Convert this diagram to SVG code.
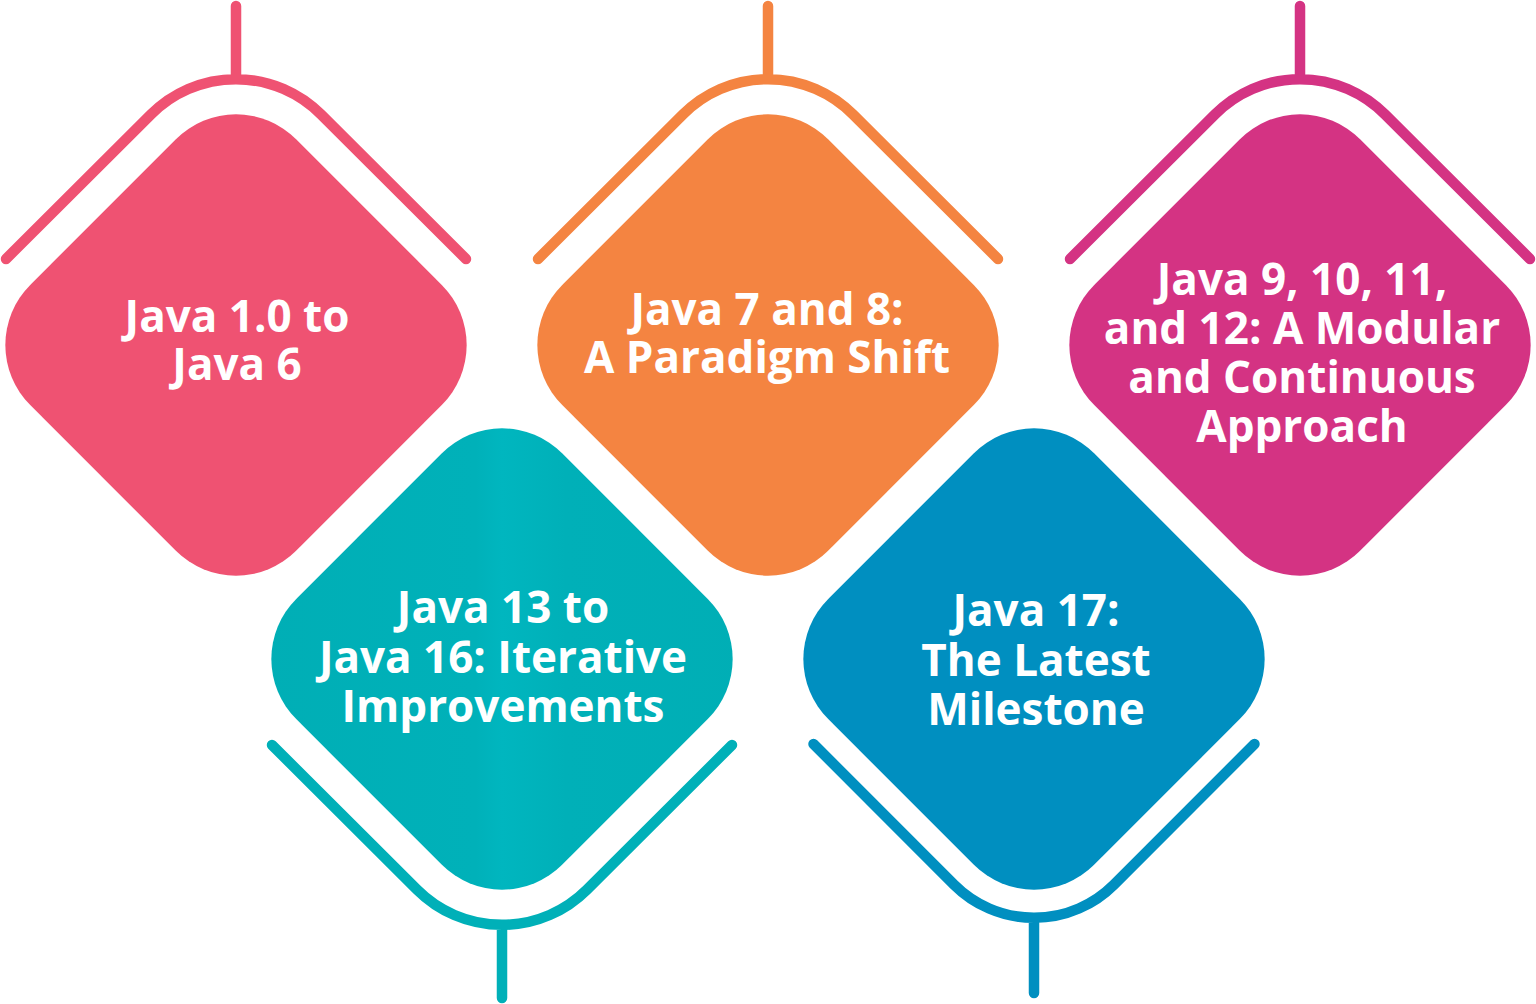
<svg xmlns="http://www.w3.org/2000/svg" width="1536" height="1004" viewBox="0 0 1536 1004">
  <defs>
    <style>
      .bracket { fill: none; stroke-width: 10.5; stroke-linecap: round; stroke-linejoin: round; }
      .label { font-family: "Open Sans", Lato, "Noto Sans", sans-serif; font-weight: 700; font-size: 44px; fill: #ffffff; text-anchor: middle; font-variant-ligatures: none; }
    </style>
    <rect id="diamond" x="-188" y="-188" width="376" height="376" rx="85" ry="85" transform="rotate(45)"/>
    <path id="bracketShape" d="M -230,-86 L -84.85,-230.7 A 120 120 0 0 1 84.85,-230.7 L 230,-86 M 0,-265.8 V -339"/>
    <path id="bracketShapeTight" d="M -220.5,-85 L -79.9,-225.7 A 113 113 0 0 1 79.9,-225.7 L 220.5,-85 M 0,-258.8 V -334"/>
    <linearGradient id="tealSheen" x1="0" y1="1" x2="1" y2="0">
      <stop offset="0" stop-color="#00AEB5"/>
      <stop offset="0.45" stop-color="#00B1B9"/>
      <stop offset="0.5" stop-color="#00B6BF"/>
      <stop offset="0.62" stop-color="#00B0B8"/>
      <stop offset="1" stop-color="#00AEB5"/>
    </linearGradient>
  </defs>
  <rect width="1536" height="1004" fill="#ffffff"/>

  <g id="connectors">
    <use href="#bracketShape" class="bracket" stroke="#EF5272" transform="translate(236,345)"/>
    <use href="#bracketShape" class="bracket" stroke="#F48441" transform="translate(768,345)"/>
    <use href="#bracketShape" class="bracket" stroke="#D43383" transform="translate(1300,345)"/>
    <use href="#bracketShape" class="bracket" stroke="#00B0B8" transform="translate(502,659) scale(1,-1)"/>
    <use href="#bracketShapeTight" class="bracket" stroke="#008FC0" transform="translate(1034,659) scale(1,-1)"/>
  </g>

  <g id="node1">
    <use href="#diamond" fill="#EF5272" transform="translate(236,345)"/>
    <text class="label"><tspan x="237" y="332">Java 1.0 to</tspan><tspan x="237" y="380">Java 6</tspan></text>
  </g>

  <g id="node2">
    <use href="#diamond" fill="#F48441" transform="translate(768,345)"/>
    <text class="label"><tspan x="767" y="325">Java 7 and 8:</tspan><tspan x="767" y="373">A Paradigm Shift</tspan></text>
  </g>

  <g id="node3">
    <use href="#diamond" fill="#D43383" transform="translate(1300,345)"/>
    <text class="label"><tspan x="1302" y="295">Java 9, 10, 11,</tspan><tspan x="1302" y="344">and 12: A Modular</tspan><tspan x="1302" y="393">and Continuous</tspan><tspan x="1302" y="442">Approach</tspan></text>
  </g>

  <g id="node4">
    <use href="#diamond" fill="url(#tealSheen)" transform="translate(502,659)"/>
    <text class="label"><tspan x="503" y="623">Java 13 to</tspan><tspan x="503" y="673">Java 16: Iterative</tspan><tspan x="503" y="722">Improvements</tspan></text>
  </g>

  <g id="node5">
    <use href="#diamond" fill="#008FC0" transform="translate(1034,659)"/>
    <text class="label"><tspan x="1036" y="626">Java 17:</tspan><tspan x="1036" y="676">The Latest</tspan><tspan x="1036" y="725">Milestone</tspan></text>
  </g>
</svg>
